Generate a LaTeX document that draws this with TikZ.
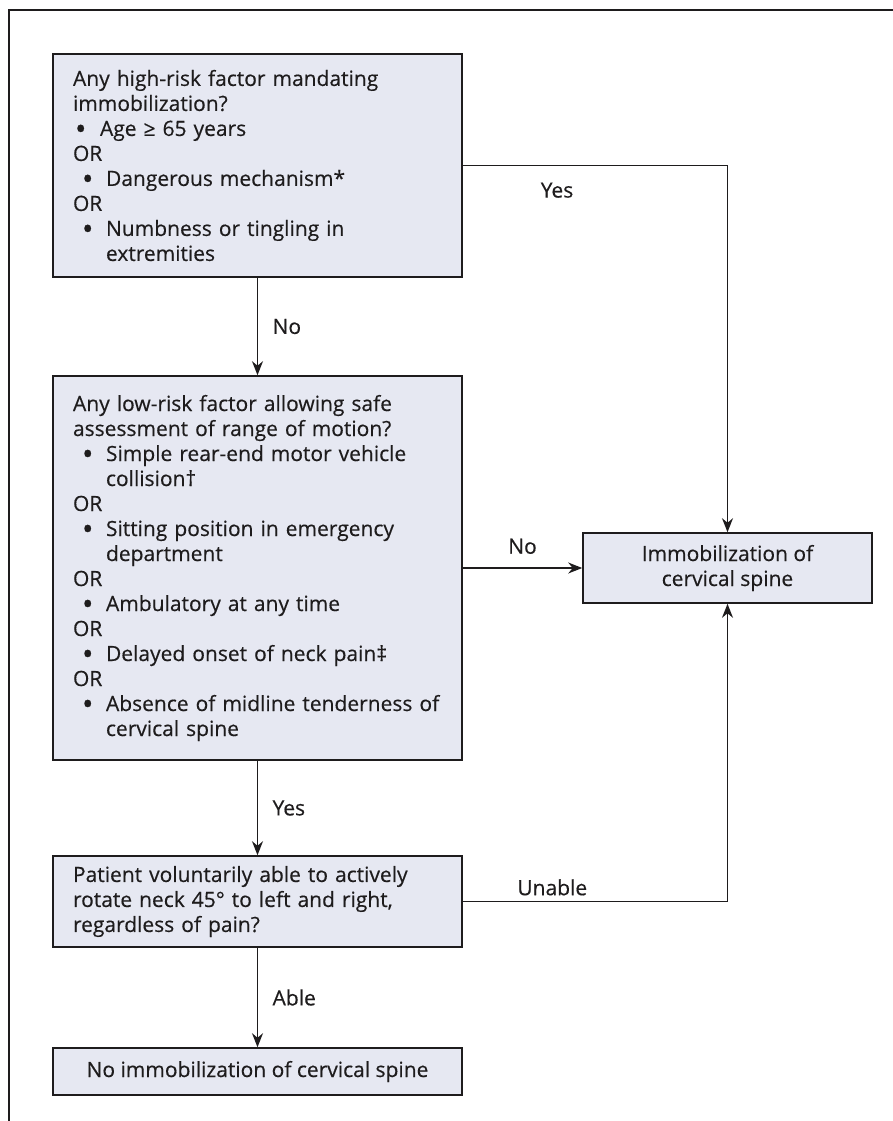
\documentclass[tikz,border=0pt]{standalone}
\usepackage{fontspec}
\usepackage{graphicx}
\setmainfont{Open Sans}[FakeBold=0.4]
\usetikzlibrary{arrows.meta}
\definecolor{boxfill}{RGB}{230,232,242}
\definecolor{ink}{RGB}{30,28,29}
\newcommand{\dotmark}{\raisebox{-0.17em}{\scalebox{1.45}{\textbullet}}}
\newcommand{\bulA}{\makebox[27pt][l]{\hspace{2pt}\dotmark}}
\newcommand{\bulB}{\makebox[33pt][l]{\hspace{9pt}\dotmark}}
\newcommand{\contB}{\hspace*{33pt}}
\tikzset{
  box/.style={draw=ink, line width=1.6pt, fill=boxfill, text=ink, inner xsep=20pt, inner ysep=0pt, font=\fontsize{21}{25}\selectfont},
  leftbox/.style={box, text width=369pt, align=left},
  arr/.style={draw=ink, line width=1.5pt, -{Stealth[length=14pt,width=11pt]}},
  lbl/.style={text=ink, font=\fontsize{21}{25}\selectfont}
}
\begin{document}
\begin{tikzpicture}[x=1pt,y=-1pt]
	\useasboundingbox (0,0) rectangle (893,1121);
	\draw[ink, line width=1.5pt] (893,10) -- (9,10) -- (9,1121);

	\node[leftbox, minimum height=223pt] (high) at (257.5,165.5) {Any high-risk factor mandating\\immobilization?\\\bulA Age ≥ 65 years\\OR\\\bulB Dangerous mechanism*\\OR\\\bulB Numbness or tingling in\\\contB extremities};

	\node[leftbox, minimum height=384pt] (low) at (257.5,568) {Any low-risk factor allowing safe\\assessment of range of motion?\\\bulB Simple rear-end motor vehicle\\\contB collision†\\OR\\\bulB Sitting position in emergency\\\contB department\\OR\\\bulB Ambulatory at any time\\OR\\\bulB Delayed onset of neck pain‡\\OR\\\bulB Absence of midline tenderness of\\\contB cervical spine};

	\node[leftbox, minimum height=91pt] (rotate) at (257.5,901.5) {Patient voluntarily able to actively\\rotate neck 45° to left and right,\\regardless of pain?};

	\node[box, minimum width=409pt, minimum height=47pt] (noimm) at (257.5,1071.5) {No immobilization of cervical spine};

	\node[box, minimum width=289pt, minimum height=70pt, inner xsep=5pt, align=center] (imm) at (727.5,568) {Immobilization of\\cervical spine};

	\draw[arr] (high.south) -- node[lbl, right=11pt] {No} (low.north);
	\draw[arr] (low.south) -- node[lbl, right=11pt] {Yes} (rotate.north);
	\draw[arr] (rotate.south) -- node[lbl, right=11pt] {Able} (noimm.north);
	\draw[arr] (high.east) -| node[lbl, pos=0.178, below=13pt] {Yes} (imm.north);
	\draw[arr] (low.east) -- node[lbl, above=10pt] {No} (imm.west);
	\draw[arr] (rotate.east) -| node[lbl, pos=0.169, above=2pt] {Unable} (imm.south);
\end{tikzpicture}
\end{document}
